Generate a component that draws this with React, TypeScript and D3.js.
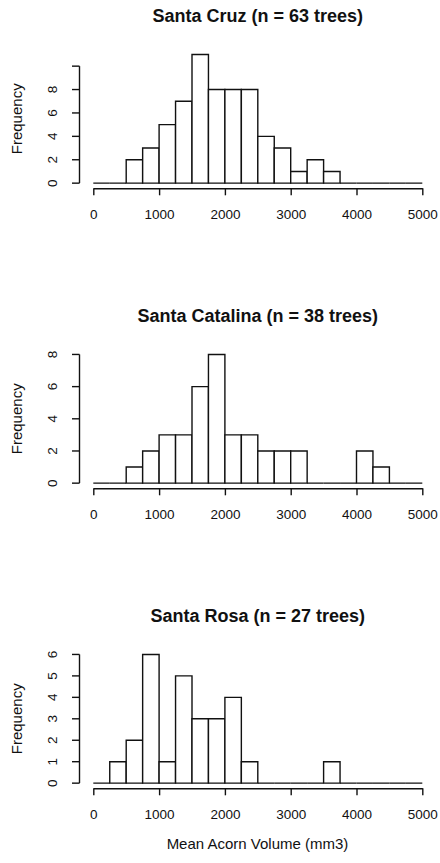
import * as d3 from "d3";
import { useEffect, useRef } from "react";

// histogram bin edges (mm3)
const breaks = [
  0, 250, 500, 750, 1000, 1250, 1500, 1750, 2000, 2250, 2500, 2750, 3000,
  3250, 3500, 3750, 4000, 4250, 4500, 4750, 5000,
];
const xTicks = [0, 1000, 2000, 3000, 4000, 5000];

const titles = [
  "Santa Cruz (n = 63 trees)",
  "Santa Catalina (n = 38 trees)",
  "Santa Rosa (n = 27 trees)",
];

const cruzCounts = [0, 0, 2, 3, 5, 7, 11, 8, 8, 8, 4, 3, 1, 2, 1, 0, 0, 0, 0, 0];
const catalinaCounts = [0, 0, 1, 2, 3, 3, 6, 8, 3, 3, 2, 2, 2, 0, 0, 0, 2, 1, 0, 0];
const rosaCounts = [0, 1, 2, 6, 1, 5, 3, 3, 4, 1, 0, 0, 0, 0, 1, 0, 0, 0, 0, 0];

const cruzYTicks = [0, 2, 4, 6, 8, 10];
const cruzYLabels = [0, 2, 4, 6, 8];
const catalinaYTicks = [0, 2, 4, 6, 8];
const catalinaYLabels = [0, 2, 4, 6, 8];
const rosaYTicks = [0, 1, 2, 3, 4, 5, 6];
const rosaYLabels = [0, 1, 2, 3, 4, 5, 6];

const xTitle = "Mean Acorn Volume (mm3)";
const yTitle = "Frequency";

export default function App() {
  const ref = useRef<SVGSVGElement>(null);

  useEffect(() => {
    const W = 440,
      H = 863;
    const font = "'Liberation Sans', Arial, sans-serif";
    const ink = "#111";

    const svg = d3.select(ref.current);
    svg.selectAll("*").remove();
    svg.append("rect").attr("width", W).attr("height", H).attr("fill", "#fff");

    const panels = [
      { title: titles[0], counts: cruzCounts, ticks: cruzYTicks, labels: cruzYLabels },
      { title: titles[1], counts: catalinaCounts, ticks: catalinaYTicks, labels: catalinaYLabels },
      { title: titles[2], counts: rosaCounts, ticks: rosaYTicks, labels: rosaYLabels },
    ];

    const x = d3.scaleLinear().domain([0, 5000]).range([93.3, 422.3]);
    const plotLeft = 79.5,
      plotH = 139,
      midX = 257.8;

    panels.forEach((p, i) => {
      const off = i * 300;
      const bottom = 188.3 + off;
      const ymax = d3.max(p.counts) as number;
      const y = d3
        .scaleLinear()
        .domain([-0.04 * ymax, 1.04 * ymax])
        .range([bottom, bottom - plotH]);

      const g = svg.append("g");

      // title
      g.append("text")
        .attr("x", midX)
        .attr("y", 21.7 + off)
        .attr("text-anchor", "middle")
        .attr("font-family", font)
        .attr("font-weight", "bold")
        .attr("font-size", 18)
        .attr("fill", ink)
        .text(p.title);

      // bars (zero bins show as a flat line, like R's hist)
      g.selectAll("path.bar")
        .data(p.counts)
        .enter()
        .append("path")
        .attr("class", "bar")
        .attr("d", (c, j) => {
          const x0 = x(breaks[j]),
            x1 = x(breaks[j + 1]);
          return `M${x0},${y(0)}V${y(c)}H${x1}V${y(0)}Z`;
        })
        .attr("fill", "#fff")
        .attr("stroke", ink)
        .attr("stroke-width", 1.4);

      // x axis
      const xa = g
        .append("g")
        .attr("transform", `translate(0,${bottom})`)
        .call(
          d3
            .axisBottom(x)
            .tickValues(xTicks)
            .tickSize(7)
            .tickSizeOuter(0)
            .tickPadding(14)
            .tickFormat(d3.format("d"))
        );
      xa.selectAll("path, line").attr("stroke", ink).attr("stroke-width", 1.4);
      xa.selectAll("text")
        .attr("font-family", font)
        .attr("font-size", 13.5)
        .attr("fill", ink);

      // y axis
      const ya = g.append("g");
      ya.append("line")
        .attr("x1", plotLeft)
        .attr("x2", plotLeft)
        .attr("y1", y(p.ticks[0]))
        .attr("y2", y(p.ticks[p.ticks.length - 1]))
        .attr("stroke", ink)
        .attr("stroke-width", 1.4);
      ya.selectAll("line.tick")
        .data(p.ticks)
        .enter()
        .append("line")
        .attr("class", "tick")
        .attr("x1", plotLeft - 7.5)
        .attr("x2", plotLeft)
        .attr("y1", (d) => y(d))
        .attr("y2", (d) => y(d))
        .attr("stroke", ink)
        .attr("stroke-width", 1.4);
      ya.selectAll("text.lab")
        .data(p.labels)
        .enter()
        .append("text")
        .attr("class", "lab")
        .attr("transform", (d) => `translate(56.5,${y(d)}) rotate(-90)`)
        .attr("text-anchor", "middle")
        .attr("font-family", font)
        .attr("font-size", 13.5)
        .attr("fill", ink)
        .text((d) => d);

      // y title
      g.append("text")
        .attr("transform", `translate(22,${bottom - plotH / 2}) rotate(-90)`)
        .attr("text-anchor", "middle")
        .attr("font-family", font)
        .attr("font-size", 15)
        .attr("fill", ink)
        .text(yTitle);
    });

    svg
      .append("text")
      .attr("x", 257.5)
      .attr("y", 849)
      .attr("text-anchor", "middle")
      .attr("font-family", font)
      .attr("font-size", 15)
      .attr("fill", ink)
      .text(xTitle);
  }, []);

  return (
    <svg
      ref={ref}
      width={440}
      height={863}
      style={{ position: "absolute", left: 0, top: 0 }}
    />
  );
}
